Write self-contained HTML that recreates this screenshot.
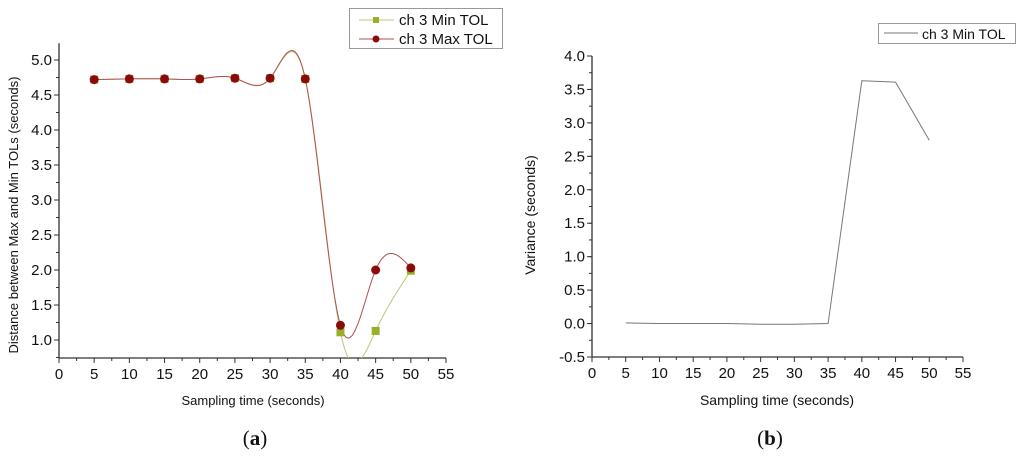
<!DOCTYPE html>
<html><head><meta charset="utf-8"><style>
html,body{margin:0;padding:0;background:#fff;}
svg{display:block;font-family:"Liberation Sans",sans-serif;}
</style></head><body>
<svg id="svg" width="1024" height="457" viewBox="0 0 1024 457"></svg>
<script>
const xValues=[5,10,15,20,25,30,35,40,45,50];
const maxTol=[4.72,4.73,4.73,4.73,4.74,4.74,4.73,1.21,2.0,2.03];
const minTol=[4.72,4.73,4.73,4.73,4.74,4.74,4.73,1.11,1.13,1.99];
const variance=[0.01,0.0,0.0,0.0,-0.01,-0.01,0.0,3.63,3.61,2.74];
const xTicks=[0,5,10,15,20,25,30,35,40,45,50,55];
const yTicksA=[1.0,1.5,2.0,2.5,3.0,3.5,4.0,4.5,5.0];
const yTicksB=[-0.5,0.0,0.5,1.0,1.5,2.0,2.5,3.0,3.5,4.0];

const NS="http://www.w3.org/2000/svg";
const svg=document.getElementById('svg');
function mk(tag,attrs,parent,name){const e=document.createElementNS(NS,tag);for(const k in attrs)e.setAttribute(k,attrs[k]);


(parent||svg).appendChild(e);return e;}

function spline(xs,ys){const n=xs.length,h=[],a=[],l=[1],mu=[0],z=[0],c=new Array(n).fill(0),b=[],d=[];
for(let i=0;i<n-1;i++)h[i]=xs[i+1]-xs[i];
for(let i=1;i<n-1;i++)a[i]=3/h[i]*(ys[i+1]-ys[i])-3/h[i-1]*(ys[i]-ys[i-1]);
for(let i=1;i<n-1;i++){l[i]=2*(xs[i+1]-xs[i-1])-h[i-1]*mu[i-1];mu[i]=h[i]/l[i];z[i]=(a[i]-h[i-1]*z[i-1])/l[i];}
l[n-1]=1;z[n-1]=0;
for(let j=n-2;j>=0;j--){c[j]=z[j]-mu[j]*c[j+1];b[j]=(ys[j+1]-ys[j])/h[j]-h[j]*(c[j+1]+2*c[j])/3;d[j]=(c[j+1]-c[j])/(3*h[j]);}
return t=>{let i=0;while(i<n-2&&t>xs[i+1])i++;const dx=t-xs[i];return ys[i]+b[i]*dx+c[i]*dx*dx+d[i]*dx*dx*dx;};}

function axes(g,X,Y,x0,x1,yb,yt,yTicks,yMinor,fmt){
  mk('line',{x1:X(x0),y1:Y(yb),x2:X(x0),y2:Y(yt),stroke:'#333','stroke-width':1.3},g,'y-axis');
  mk('line',{x1:X(x0),y1:Y(yb),x2:X(x1),y2:Y(yb),stroke:'#333','stroke-width':1.3},g,'x-axis');
  xTicks.forEach(v=>{mk('line',{x1:X(v),y1:Y(yb),x2:X(v),y2:Y(yb)+5,stroke:'#333'},g,'x-tick');
    const t=mk('text',{x:X(v),y:Y(yb)+21,'text-anchor':'middle','font-size':15,fill:'#111'},g,'x-tick-label');t.textContent=v;
    if(v<55)mk('line',{x1:X(v+2.5),y1:Y(yb),x2:X(v+2.5),y2:Y(yb)+3,stroke:'#333'},g,'x-minor-tick');});
  yTicks.forEach(v=>{mk('line',{x1:X(x0)-5,y1:Y(v),x2:X(x0),y2:Y(v),stroke:'#333'},g,'y-tick');
    const t=mk('text',{x:X(x0)-7,y:Y(v)+5,'text-anchor':'end','font-size':15,fill:'#111'},g,'y-tick-label');t.textContent=v.toFixed(1);});
  for(let v=yTicks[0]-yMinor;v<=yt;v+=yMinor){if(v<yb)continue;mk('line',{x1:X(x0)-3,y1:Y(v),x2:X(x0),y2:Y(v),stroke:'#333'},g,'y-minor-tick');}
}

// Panel A
const gA=mk('g',{},svg,'chart-a');
const XA=v=>59+v*(446-59)/55, YA=v=>60+(5-v)*70;
const ybA=0.743, ytA=5.24;
mk('clipPath',{id:'clipA'},gA,'clip-a');
mk('rect',{x:59,y:YA(ytA)-10,width:390,height:YA(ybA)-YA(ytA)+10},document.getElementById('clipA'),'clip-rect');
axes(gA,XA,YA,0,55,ybA,ytA,yTicksA,0.25);
function curve(ys,color,name){const f=spline(xValues,ys);let d='';for(let t=5;t<=50.001;t+=0.1)d+=(d?'L':'M')+XA(t).toFixed(2)+','+YA(f(t)).toFixed(2);
 mk('path',{d:d,fill:'none',stroke:color,'stroke-width':1,'clip-path':'url(#clipA)'},gA,name);}
curve(minTol,'#b8c87a','min-tol-line');
curve(maxTol,'#b05050','max-tol-line');
xValues.forEach((x,i)=>mk('rect',{x:XA(x)-4,y:YA(minTol[i])-4,width:8,height:8,fill:'#9aae2a'},gA,'min-tol-marker'));
xValues.forEach((x,i)=>mk('circle',{cx:XA(x),cy:YA(maxTol[i]),r:4.5,fill:'#8b0a0a'},gA,'max-tol-marker'));
let t=mk('text',{x:253,y:405,'text-anchor':'middle','font-size':13,fill:'#111'},gA,'x-axis-title');t.textContent='Sampling time (seconds)';
t=mk('text',{x:0,y:0,transform:'translate(18,215) rotate(-90)','text-anchor':'middle','font-size':13,fill:'#111'},gA,'y-axis-title');t.textContent='Distance between Max and Min TOLs (seconds)';
const lgA=mk('g',{},gA,'legend-a');
mk('rect',{x:349.5,y:8.5,width:153,height:40,fill:'#fff',stroke:'#999'},lgA,'legend-box');
mk('line',{x1:359,y1:20,x2:394,y2:20,stroke:'#b8c87a'},lgA,'legend-min-line');
mk('rect',{x:373,y:17,width:6,height:6,fill:'#9aae2a'},lgA,'legend-min-marker');
t=mk('text',{x:399,y:25,'font-size':15,fill:'#111'},lgA,'legend-min-label');t.textContent='ch 3 Min TOL';
mk('line',{x1:359,y1:39,x2:394,y2:39,stroke:'#b05050'},lgA,'legend-max-line');
mk('circle',{cx:376,cy:39,r:3.5,fill:'#8b0a0a'},lgA,'legend-max-marker');
t=mk('text',{x:399,y:44,'font-size':15,fill:'#111'},lgA,'legend-max-label');t.textContent='ch 3 Max TOL';
t=mk('text',{x:255,y:445,'text-anchor':'middle','font-size':21,'font-family':'Liberation Serif, serif',fill:'#111'},gA,'panel-label-a');
t.innerHTML='(<tspan font-weight="bold">a</tspan>)';

// Panel B
const gB=mk('g',{},svg,'chart-b');
const XB=v=>592+v*(963-592)/55, YB=v=>56+(4-v)*(301/4.5);
axes(gB,XB,YB,0,55,-0.5,4.0,yTicksB,0.25);
let dB='';xValues.forEach((x,i)=>{dB+=(i?'L':'M')+XB(x).toFixed(2)+','+YB(variance[i]).toFixed(2);});
mk('path',{d:dB,fill:'none',stroke:'#777','stroke-width':1},gB,'variance-line');
t=mk('text',{x:777,y:405,'text-anchor':'middle','font-size':14,fill:'#111'},gB,'x-axis-title');t.textContent='Sampling time (seconds)';
t=mk('text',{x:0,y:0,transform:'translate(535,215) rotate(-90)','text-anchor':'middle','font-size':14,fill:'#111'},gB,'y-axis-title');t.textContent='Variance (seconds)';
const lgB=mk('g',{},gB,'legend-b');
mk('rect',{x:878.5,y:23.5,width:137,height:20,fill:'#fff',stroke:'#999'},lgB,'legend-box');
mk('line',{x1:884,y1:33,x2:918,y2:33,stroke:'#777'},lgB,'legend-line');
t=mk('text',{x:922,y:39,'font-size':14,fill:'#111'},lgB,'legend-label');t.textContent='ch 3 Min TOL';
t=mk('text',{x:770,y:445,'text-anchor':'middle','font-size':21,'font-family':'Liberation Serif, serif',fill:'#111'},gB,'panel-label-b');
t.innerHTML='(<tspan font-weight="bold">b</tspan>)';
</script>
</body></html>
